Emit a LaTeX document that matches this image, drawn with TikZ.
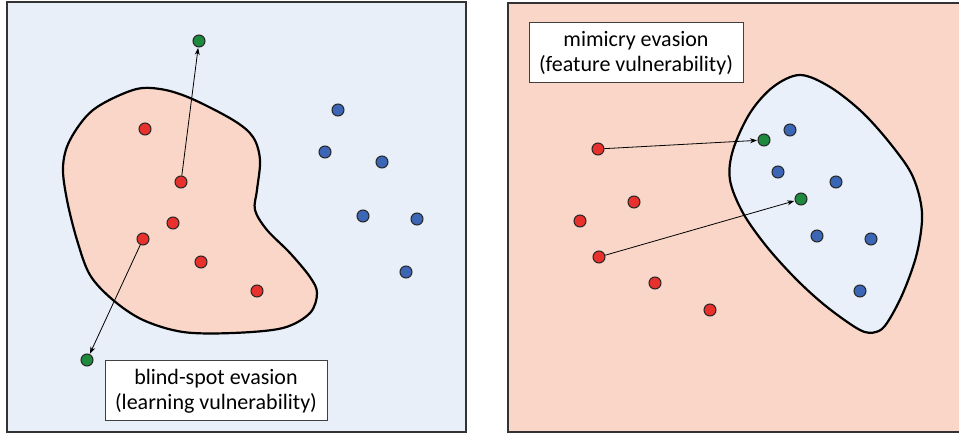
\documentclass[tikz,border=0pt]{standalone}
\usepackage{fontspec}
\setmainfont{Carlito}
\usetikzlibrary{arrows.meta}
\definecolor{paneblue}{HTML}{E8EFF8}
\definecolor{panesalmon}{HTML}{F9D6C8}
\definecolor{blobsalmon}{HTML}{FAD6C8}
\definecolor{blobblue}{HTML}{E9F0F9}
\definecolor{ptred}{HTML}{E8302C}
\definecolor{ptgreen}{HTML}{1E8A3E}
\definecolor{ptblue}{HTML}{3B66B5}
\tikzset{
  pane/.style={draw=black!80, line width=1.3pt},
  blob/.style={draw=black, line width=2.2pt},
  dot/.style={circle, draw=black!85, line width=1pt, minimum size=12pt, inner sep=0pt},
  reddot/.style={dot, fill=ptred},
  greendot/.style={dot, fill=ptgreen},
  bluedot/.style={dot, fill=ptblue},
  move/.style={draw=black, line width=0.8pt, -{Stealth[length=7pt,width=5pt]}, shorten >=0.5pt},
  labelbox/.style={draw=black!75, line width=1pt, fill=white, align=center,
    font=\fontsize{22}{25}\selectfont, inner sep=0pt}
}
\begin{document}
\begin{tikzpicture}[x=1pt, y=-1pt]
\useasboundingbox (0,0) rectangle (959,435);

% ---- left panel: learning vulnerability ----
\path[pane, fill=paneblue] (7,2) rectangle (466,432);
\path[blob, fill=blobsalmon] plot[smooth cycle, tension=0.55] coordinates {
  (133,90) (160,89) (190,98) (233,120) (253,137) (260,160) (257,190) (255,210)
  (267,230) (290,253) (310,277) (317,293) (310,313) (283,328) (233,333) (183,332)
  (143,320) (113,300) (90,275) (77,240) (67,200) (63,167) (70,140) (93,110)};

\node[reddot] (la) at (145,129) {};
\node[reddot] (lb) at (181,182) {};
\node[reddot] (lc) at (173,223) {};
\node[reddot] (ld) at (143,239) {};
\node[reddot] (le) at (201,262) {};
\node[reddot] (lf) at (257,291) {};
\node[greendot] (lg1) at (199,41) {};
\node[greendot] (lg2) at (87,360) {};
\node[bluedot] at (338,110) {};
\node[bluedot] at (325,152) {};
\node[bluedot] at (382,162) {};
\node[bluedot] at (363,216) {};
\node[bluedot] at (417,219) {};
\node[bluedot] at (406,272) {};

\draw[move] (lb) -- (lg1);
\draw[move] (ld) -- (lg2);

\node[labelbox, minimum width=222pt, minimum height=60pt] (lbox) at (216,391)
  {blind-spot evasion\\(learning vulnerability)};

% ---- right panel: feature vulnerability ----
\path[pane, fill=panesalmon] (508,3) rectangle (962,432);
\path[blob, fill=blobblue] plot[smooth cycle, tension=0.55] coordinates {
  (800,75) (830,87) (863,113) (893,147) (913,177) (922,213) (917,253) (903,293)
  (887,323) (876,332) (860,330) (827,307) (797,280) (767,247) (743,213) (730,180)
  (733,150) (750,113) (773,87)};

\node[reddot] (ra) at (598,149) {};
\node[reddot] (rb) at (634,202) {};
\node[reddot] (rc) at (580,221) {};
\node[reddot] (rd) at (599,257) {};
\node[reddot] (re) at (655,283) {};
\node[reddot] (rf) at (710,310) {};
\node[greendot] (rg1) at (764,140) {};
\node[greendot] (rg2) at (801,199) {};
\node[bluedot] at (790,130) {};
\node[bluedot] at (778,172) {};
\node[bluedot] at (836,182) {};
\node[bluedot] at (817,236) {};
\node[bluedot] at (871,239) {};
\node[bluedot] at (860,291) {};

\draw[move] (ra) -- (rg1);
\draw[move] (rd) -- (rg2);

\node[labelbox, minimum width=214pt, minimum height=60pt] (rbox) at (636,53)
  {mimicry evasion\\(feature vulnerability)};
\end{tikzpicture}
\end{document}
